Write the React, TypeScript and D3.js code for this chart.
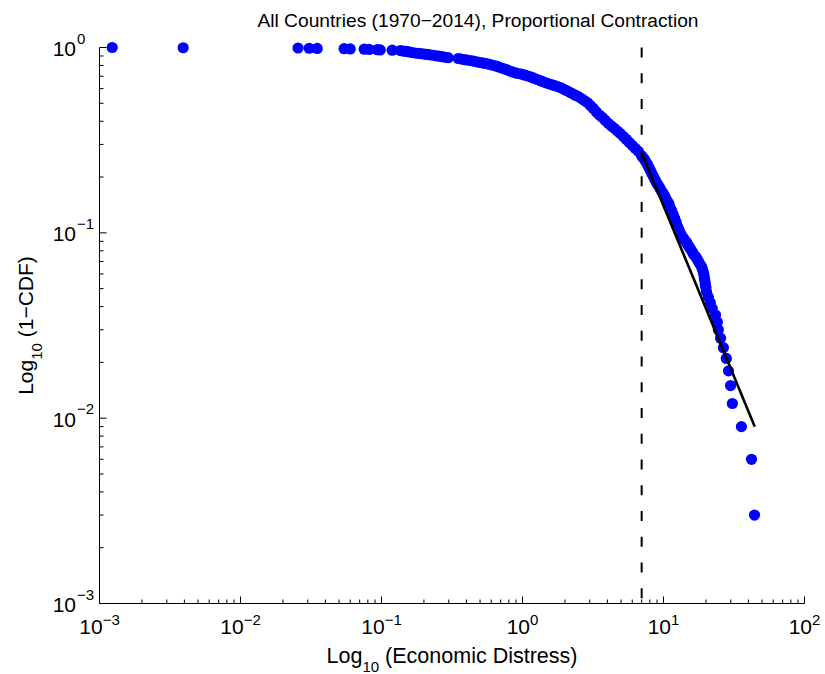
import React from "react";
import * as d3 from "d3";

// Economic distress values (sorted) and their complementary cumulative probability
const distress = [
  0.00123, 0.00392, 0.0256, 0.0307, 0.035, 0.0543, 0.06, 0.0754, 0.0818, 0.0933, 0.0979, 0.119,
  0.136, 0.143, 0.15, 0.157, 0.165, 0.173, 0.182, 0.191, 0.201, 0.211, 0.221, 0.233, 0.244, 0.256, 0.27, 0.283, 0.297,
  0.35, 0.367, 0.386, 0.406, 0.426, 0.448, 0.47, 0.493, 0.518, 0.544, 0.572, 0.6, 0.631, 0.662, 0.695, 0.731, 0.767,
  0.805, 0.847, 0.889, 0.933, 0.981, 1.03, 1.08, 1.14, 1.19, 1.25, 1.32, 1.38, 1.45, 1.52, 1.6, 1.68, 1.77, 1.86, 1.95,
  2.05, 2.15, 2.26, 2.37, 2.49, 2.62, 2.75, 2.89, 3.03, 3.18, 3.34, 3.51, 3.69, 3.87, 4.07, 4.27, 4.49, 4.71, 4.95,
  5.2, 5.46, 5.73, 6.02, 6.32, 6.64,
  6.98, 7.14, 7.33, 7.5, 7.69, 7.88, 8.08, 8.27, 8.49, 8.69, 8.91, 9.13, 9.36, 9.58, 9.83, 10.1, 10.3, 10.6, 10.9,
  11.1, 11.4, 11.7, 12.0, 12.3, 12.6, 12.9, 13.2, 13.5, 13.9, 14.2, 14.6, 14.9, 15.3, 15.7, 16.1, 16.4, 16.9, 17.3,
  17.7, 18.1, 18.6, 18.9, 19.2, 19.4, 19.5, 19.7, 19.8, 20.0,
  20.2, 20.8, 21.5, 22.2, 23.4, 24.1, 24.5, 25.4, 26.6, 27.9, 28.9, 29.9, 30.8, 35.7, 42.1, 44.2,
];
const ccdf = [
  1.0, 0.997, 0.994, 0.991, 0.988, 0.985, 0.982, 0.979, 0.976, 0.973, 0.97, 0.967,
  0.963, 0.957, 0.952, 0.946, 0.94, 0.934, 0.93, 0.926, 0.921, 0.917, 0.912, 0.908, 0.902, 0.898, 0.892, 0.886, 0.881,
  0.872, 0.867, 0.861, 0.856, 0.851, 0.845, 0.838, 0.832, 0.826, 0.82, 0.813, 0.806, 0.799, 0.79, 0.78, 0.77, 0.761,
  0.749, 0.738, 0.73, 0.724, 0.718, 0.711, 0.703, 0.695, 0.685, 0.675, 0.665, 0.656, 0.647, 0.639, 0.631, 0.624, 0.616,
  0.608, 0.597, 0.586, 0.575, 0.564, 0.553, 0.543, 0.53, 0.517, 0.504, 0.486, 0.469, 0.449, 0.432, 0.419, 0.404, 0.389,
  0.377, 0.366, 0.354, 0.343, 0.331, 0.319, 0.307, 0.296, 0.285, 0.275,
  0.261, 0.255, 0.249, 0.241, 0.234, 0.225, 0.217, 0.209, 0.201, 0.194, 0.187, 0.181, 0.176, 0.17, 0.165, 0.16, 0.155,
  0.149, 0.144, 0.138, 0.132, 0.1256, 0.1195, 0.1136, 0.108, 0.1035, 0.0991, 0.0961, 0.0933, 0.0909, 0.0886, 0.0859,
  0.0833, 0.0808, 0.0783, 0.0763, 0.0745, 0.0722, 0.07, 0.0679, 0.0658, 0.0634, 0.0611, 0.0588, 0.0567, 0.0546,
  0.0526, 0.0507,
  0.048, 0.045, 0.042, 0.039, 0.036, 0.033, 0.03, 0.027, 0.024, 0.021, 0.018, 0.015, 0.012, 0.009, 0.006, 0.003,
];

// Power-law fit above the threshold
const fitX = [7.0, 44.4];
const fitY = [0.27, 0.009];
const threshold = 7.0;

const xTickExps = [-3, -2, -1, 0, 1, 2];
const yTickExps = [-3, -2, -1, 0];
const title = "All Countries (1970\u22122014), Proportional Contraction";

const W = 825;
const H = 674;
const plot = { left: 99.5, right: 804.5, top: 47.5, bottom: 603.5 };
const FONT = "'Liberation Sans', Arial, Helvetica, sans-serif";

const expText = (e: number) => (e < 0 ? "\u2212" + -e : String(e));

export default function App() {
  const x = d3.scaleLog().domain([1e-3, 1e2]).range([plot.left, plot.right]);
  const y = d3.scaleLog().domain([1e-3, 1]).range([plot.bottom, plot.top]);

  const isMajor = (t: number) => Math.abs(Math.log10(t) - Math.round(Math.log10(t))) < 1e-9;
  const xTicks = x.ticks();
  const yTicks = y.ticks();

  const n = Math.min(distress.length, ccdf.length);
  const pts = d3.range(n).map((i) => [distress[i], ccdf[i]] as [number, number]);

  const fitLine = d3
    .line<[number, number]>()
    .x((d) => x(d[0]))
    .y((d) => y(d[1]))(fitX.map((v, i) => [v, fitY[i]] as [number, number]));

  return (
    <div style={{ position: "absolute", left: 0, top: 0 }}>
      <svg width={W} height={H} viewBox={`0 0 ${W} ${H}`} style={{ display: "block", background: "#fff" }} fontFamily={FONT}>
        <rect x={0} y={0} width={W} height={H} fill="#fff" />

        {/* markers */}
        <g fill="#0000ff">
          {pts.map((d, i) => (
            <circle key={i} cx={x(d[0])} cy={y(d[1])} r={5.6} />
          ))}
        </g>

        {/* threshold and fitted line */}
        <line
          x1={x(threshold)}
          x2={x(threshold)}
          y1={y(1)}
          y2={y(1e-3)}
          stroke="#000"
          strokeWidth={2}
          strokeDasharray="10 15.75"
        />
        <path d={fitLine || ""} fill="none" stroke="#000" strokeWidth={2.6} />

        {/* axes */}
        <g stroke="#000" strokeWidth={1} fill="none">
          <line x1={plot.left} x2={plot.right} y1={plot.bottom} y2={plot.bottom} />
          <line x1={plot.left} x2={plot.left} y1={plot.top} y2={plot.bottom} />
          {xTicks.map((t, i) => {
            const len = isMajor(t) ? 7 : 4;
            return <line key={"xt" + i} x1={x(t)} x2={x(t)} y1={plot.bottom} y2={plot.bottom - len} />;
          })}
          {yTicks.map((t, i) => {
            const len = isMajor(t) ? 7 : 4;
            return <line key={"yt" + i} x1={plot.left} x2={plot.left + len} y1={y(t)} y2={y(t)} />;
          })}
        </g>

        {/* tick labels */}
        <g fill="#000">
          {xTickExps.map((e) => (
            <text key={"xl" + e} x={x(Math.pow(10, e))} y={634} textAnchor="middle" fontSize={21}>
              10
              <tspan dy={-9} fontSize={15}>
                {expText(e)}
              </tspan>
            </text>
          ))}
          {yTickExps.map((e) => (
            <g key={"yl" + e}>
              <text x={76} y={y(Math.pow(10, e)) + 8.5} textAnchor="end" fontSize={21}>
                10
              </text>
              <text x={77} y={y(Math.pow(10, e)) - 4} fontSize={15}>
                {expText(e)}
              </text>
            </g>
          ))}
        </g>

        {/* title and axis labels */}
        <text x={478} y={27} textAnchor="middle" fontSize={19.2} fill="#000">
          {title}
        </text>
        <text x={(plot.left + plot.right) / 2} y={663} textAnchor="middle" fontSize={21.5} fill="#000">
          Log
          <tspan dy={9} fontSize={15}>
            10
          </tspan>
          <tspan dy={-9}> (Economic Distress)</tspan>
        </text>
        <text
          transform={`translate(33, ${(plot.top + plot.bottom) / 2}) rotate(-90)`}
          textAnchor="middle"
          fontSize={21}
          fill="#000"
        >
          Log
          <tspan dy={9} fontSize={15}>
            10
          </tspan>
          <tspan dy={-9}> (1{"\u2212"}CDF)</tspan>
        </text>
      </svg>
    </div>
  );
}
